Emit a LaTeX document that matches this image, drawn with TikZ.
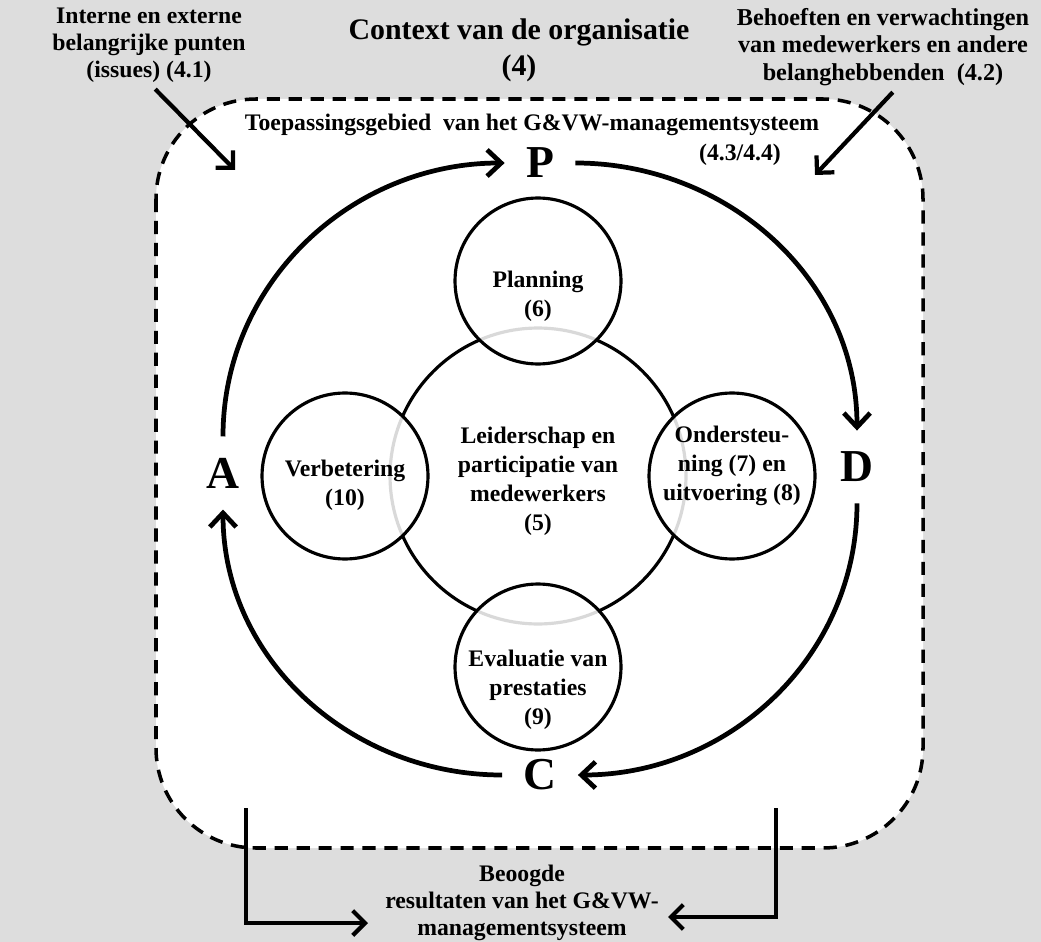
\documentclass[tikz,border=0pt]{standalone}
\usepackage{fontspec}
\setmainfont{Liberation Serif}
\usetikzlibrary{arrows.meta}
\definecolor{bggray}{RGB}{221,221,221}

\tikzset{
	txt/.style={font=\bfseries\fontsize{13.5}{15.5}\selectfont, align=center, inner sep=0pt},
	cirtxt/.style={font=\bfseries\fontsize{13.5}{16.5}\selectfont, align=center, inner sep=0pt},
	pdca/.style={font=\bfseries\fontsize{26}{28}\selectfont, inner sep=12pt},
	stage/.style={circle, draw, line width=1.8pt, fill=white, fill opacity=0.85, minimum size=3.32cm, inner sep=0pt},
	cycle/.style={line width=2.7pt, -{Straight Barb[length=8pt,width=15pt,line width=2.7pt]}},
	pointer/.style={line width=2.4pt, -{Straight Barb[length=7pt,width=14pt,line width=2.4pt]}}
}

\begin{document}
\begin{tikzpicture}
	\pgfsetxvec{\pgfpoint{0.02cm}{0.0cm}}
	\pgfsetyvec{\pgfpoint{0.0cm}{-0.02cm}}

	% background and scope
	\fill[bggray] (0,0) rectangle (1041,942);
	\useasboundingbox (0,0) rectangle (1041,942);
	\draw[fill=white, line width=2pt, dash pattern=on 7.5pt off 5pt, rounded corners=2cm] (156,99) rectangle (923,848);

	% circles
	\node[circle, draw, line width=1.8pt, fill=white, minimum size=5.92cm] at (538,476) (lead) {};
	\node[stage] at (538,281) (plan) {};
	\node[stage] at (345,476) (impr) {};
	\node[stage] at (732,476) (supp) {};
	\node[stage] at (538,667) (eval) {};

	\node[cirtxt] at (538,481) (leadtxt) {Leiderschap en\\participatie van\\medewerkers\\(5)};
	\node[cirtxt] at (538,296) (plantxt) {Planning\\(6)};
	\node[cirtxt] at (345,485) (imprtxt) {Verbetering\\(10)};
	\node[cirtxt] at (732,466) (supptxt) {Ondersteu-\\ning (7) en\\uitvoering (8)};
	\node[cirtxt] at (538,690) (evaltxt) {Evaluatie van\\prestaties\\(9)};

	% PDCA
	\node[pdca] at (540,163) (P) {P};
	\node[pdca] at (857,467) (D) {D};
	\node[pdca] at (540,775) (C) {C};
	\node[pdca] at (223,473) (A) {A};
	\draw[cycle] (P) to[out=0,in=90] (D);
	\draw[cycle] (D) to[out=-90,in=0] (C);
	\draw[cycle] (C) to[out=180,in=-90] (A);
	\draw[cycle] (A) to[out=90,in=180] (P);

	% context
	\node[txt, font=\bfseries\fontsize{17}{20.5}\selectfont] at (519,50) (ctx) {Context van de organisatie\\(4)};
	\node[txt] at (149,45) (int) {Interne en externe\\belangrijke punten\\(issues) (4.1)};
	\node[txt, font=\bfseries\fontsize{13.8}{15.5}\selectfont] at (883,47) (beh) {Behoeften en verwachtingen\\van medewerkers en andere\\belanghebbenden~ (4.2)};
	\node[txt] at (532,125) (scope) {Toepassingsgebied~ van het G\&VW-managementsysteem};
	\node[txt] at (740,155) (scopenr) {(4.3/4.4)};
	\coordinate (inttip) at (235,170);
	\coordinate (behtip) at (815,175);
	\draw[pointer, shorten <=5pt] (int.south) -- (inttip);
	\draw[pointer, shorten <=5pt] ([xshift=9pt]beh.south) -- (behtip);

	% results
	\node[txt] at (522,903) (goal) {Beoogde\\resultaten van het G\&VW-\\managementsysteem};
	\coordinate (resl) at (246,808);
	\coordinate (resltip) at (368,923);
	\coordinate (resr) at (776,808);
	\coordinate (resrtip) at (668,917);
	\draw[pointer] (resl) |- (resltip);
	\draw[pointer] (resr) |- (resrtip);

\end{tikzpicture}
\end{document}
